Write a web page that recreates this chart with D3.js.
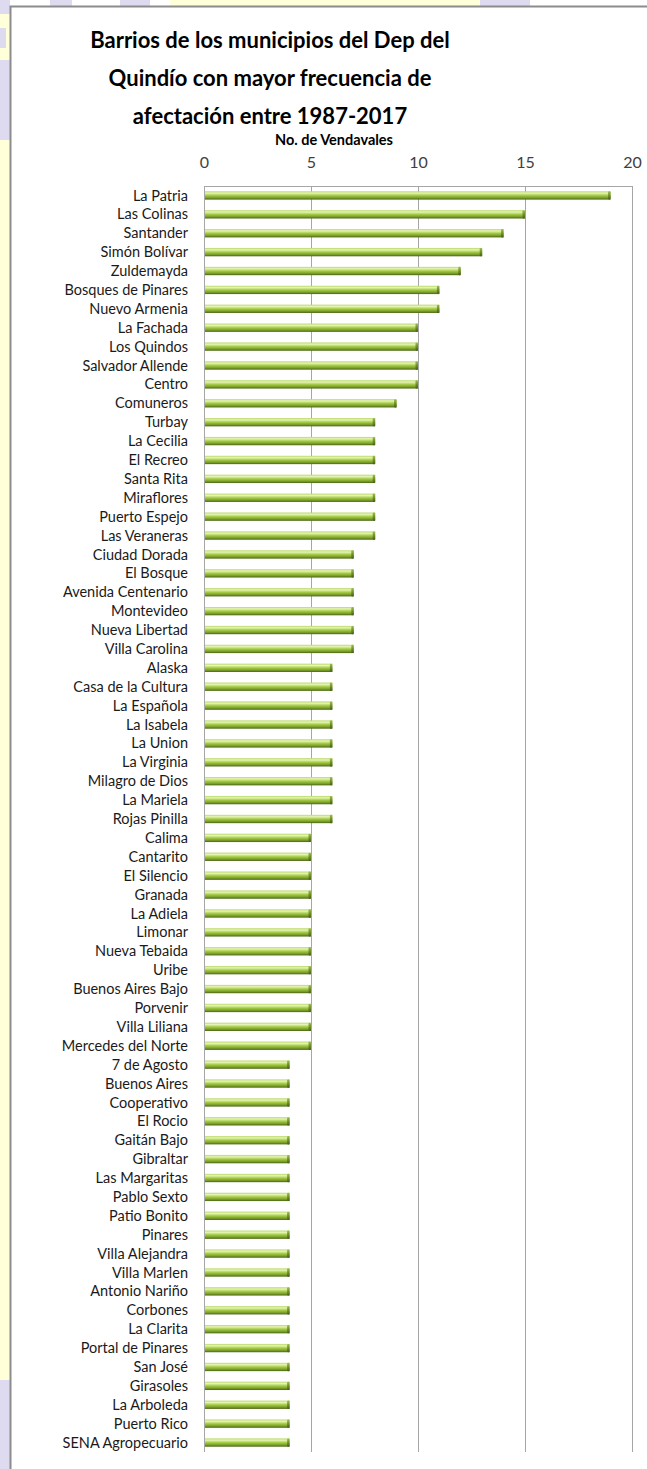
<!DOCTYPE html>
<html>
<head>
<meta charset="utf-8">
<script src="https://cdn.jsdelivr.net/npm/d3@7"></script>
<style>
  html, body { margin: 0; padding: 0; background: #fff; }
  svg { display: block; }
</style>
</head>
<body>
<div id="chart"></div>
<script>
var barrios = ["La Patria", "Las Colinas", "Santander", "Simón Bolívar", "Zuldemayda",
  "Bosques de Pinares", "Nuevo Armenia", "La Fachada", "Los Quindos", "Salvador Allende",
  "Centro", "Comuneros", "Turbay", "La Cecilia", "El Recreo", "Santa Rita", "Miraflores",
  "Puerto Espejo", "Las Veraneras", "Ciudad Dorada", "El Bosque", "Avenida Centenario",
  "Montevideo", "Nueva Libertad", "Villa Carolina", "Alaska", "Casa de la Cultura",
  "La Española", "La Isabela", "La Union", "La Virginia", "Milagro de Dios", "La Mariela",
  "Rojas Pinilla", "Calima", "Cantarito", "El Silencio", "Granada", "La Adiela", "Limonar",
  "Nueva Tebaida", "Uribe", "Buenos Aires Bajo", "Porvenir", "Villa Liliana",
  "Mercedes del Norte", "7 de Agosto", "Buenos Aires", "Cooperativo", "El Rocio",
  "Gaitán Bajo", "Gibraltar", "Las Margaritas", "Pablo Sexto", "Patio Bonito", "Pinares",
  "Villa Alejandra", "Villa Marlen", "Antonio Nariño", "Corbones", "La Clarita",
  "Portal de Pinares", "San José", "Girasoles", "La Arboleda", "Puerto Rico",
  "SENA Agropecuario"];

var vendavales = [19, 15, 14, 13, 12,
  11, 11, 10, 10, 10,
  10, 9, 8, 8, 8, 8, 8,
  8, 8, 7, 7, 7,
  7, 7, 7, 6, 6,
  6, 6, 6, 6, 6, 6,
  6, 5, 5, 5, 5, 5, 5,
  5, 5, 5, 5, 5,
  5, 4, 4, 4, 4,
  4, 4, 4, 4, 4, 4,
  4, 4, 4, 4, 4,
  4, 4, 4, 4, 4,
  4];

var tickValues = [0, 5, 10, 15, 20];

var titleLines = ["Barrios de los municipios del Dep del",
  "Quindío con mayor frecuencia de",
  "afectación entre 1987-2017"];
var axisTitle = "No. de Vendavales";

var width = 647;
var height = 1469;
var fontFamily = "Lato, 'Open Sans', 'DejaVu Sans', sans-serif";

var data = barrios.map(function(b, i) { return { name: b, value: vendavales[i] }; });

var svg = d3.select("#chart")
  .append("svg")
  .attr("width", width)
  .attr("height", height);

// page background strip at the left / top
svg.append("rect").attr("x", 0).attr("y", 0).attr("width", 10).attr("height", height).attr("fill", "#ffffd9");
svg.append("rect").attr("x", 170).attr("y", 0).attr("width", 310).attr("height", 6).attr("fill", "#ffffd9");
var lav = [[0, 0, 10, 14], [0, 28, 6, 20], [0, 60, 10, 80], [50, 0, 22, 6], [120, 0, 30, 6],
  [480, 0, 50, 6], [0, 1380, 10, 89]];
lav.forEach(function(r) {
  svg.append("rect").attr("x", r[0]).attr("y", r[1]).attr("width", r[2]).attr("height", r[3]).attr("fill", "#dedaf0");
});

// chart frame
svg.append("path")
  .attr("d", "M10.5," + height + "V6.5H" + width)
  .attr("fill", "none")
  .attr("stroke", "#8c8c8c")
  .attr("stroke-width", 2);

var margin = { top: 186, left: 204, right: 632, bottom: 1452 };

var x = d3.scaleLinear()
  .domain([0, 20])
  .range([margin.left, margin.right]);

var y = d3.scaleBand()
  .domain(barrios)
  .range([margin.top, margin.bottom])
  .paddingInner(0.56)
  .paddingOuter(0.28);

// gradient for the cylinder look
var defs = svg.append("defs");
var grad = defs.append("linearGradient")
  .attr("id", "barGrad")
  .attr("x1", 0).attr("y1", 0).attr("x2", 0).attr("y2", 1);
grad.append("stop").attr("offset", "0%").attr("stop-color", "#b9d86a");
grad.append("stop").attr("offset", "22%").attr("stop-color", "#e6f4b4");
grad.append("stop").attr("offset", "50%").attr("stop-color", "#a4cc45");
grad.append("stop").attr("offset", "78%").attr("stop-color", "#7b9f2a");
grad.append("stop").attr("offset", "100%").attr("stop-color", "#4a6416");

var capGrad = defs.append("linearGradient")
  .attr("id", "capGrad")
  .attr("x1", 0).attr("y1", 0).attr("x2", 0).attr("y2", 1);
capGrad.append("stop").attr("offset", "0%").attr("stop-color", "#9cbf52");
capGrad.append("stop").attr("offset", "50%").attr("stop-color", "#6f8f2a");
capGrad.append("stop").attr("offset", "100%").attr("stop-color", "#46601a");

// grid
var grid = svg.append("g").attr("class", "grid");
grid.selectAll("line")
  .data(tickValues)
  .enter()
  .append("line")
  .attr("x1", function(d) { return Math.round(x(d)) + 0.5; })
  .attr("x2", function(d) { return Math.round(x(d)) + 0.5; })
  .attr("y1", margin.top)
  .attr("y2", margin.bottom)
  .attr("stroke", "#a6a6a6")
  .attr("stroke-width", 1);
grid.append("line")
  .attr("x1", margin.left).attr("x2", margin.right)
  .attr("y1", margin.top + 0.5).attr("y2", margin.top + 0.5)
  .attr("stroke", "#a6a6a6");

// top axis labels
var axis = d3.axisTop(x)
  .tickValues(tickValues)
  .tickSize(0)
  .tickPadding(0);

var axisG = svg.append("g")
  .attr("transform", "translate(0,168)")
  .call(axis);
axisG.select(".domain").remove();
axisG.selectAll("text")
  .attr("dy", 0)
  .attr("font-family", fontFamily)
  .attr("font-size", 16)
  .attr("fill", "#404040");

// bars
var bars = svg.append("g").attr("class", "bars");
bars.selectAll("rect.bar")
  .data(data)
  .enter()
  .append("rect")
  .attr("class", "bar")
  .attr("x", x(0) + 1)
  .attr("y", function(d) { return y(d.name); })
  .attr("width", function(d) { return x(d.value) - x(0) - 1; })
  .attr("height", y.bandwidth())
  .attr("fill", "url(#barGrad)");

bars.selectAll("rect.cap")
  .data(data)
  .enter()
  .append("rect")
  .attr("class", "cap")
  .attr("x", function(d) { return x(d.value) - 2.5; })
  .attr("y", function(d) { return y(d.name); })
  .attr("width", 2.5)
  .attr("height", y.bandwidth())
  .attr("rx", 1)
  .attr("fill", "url(#capGrad)");

// category labels
svg.append("g")
  .selectAll("text")
  .data(data)
  .enter()
  .append("text")
  .attr("x", 188)
  .attr("y", function(d) { return y(d.name) + y.bandwidth() / 2; })
  .attr("dy", "0.35em")
  .attr("text-anchor", "end")
  .attr("font-family", fontFamily)
  .attr("font-size", 14.5)
  .attr("fill", "#1a1a1a")
  .text(function(d) { return d.name; });

// title
var title = svg.append("g");
title.selectAll("text")
  .data(titleLines)
  .enter()
  .append("text")
  .attr("x", 270)
  .attr("y", function(d, i) { return 48 + i * 38; })
  .attr("text-anchor", "middle")
  .attr("font-family", fontFamily)
  .attr("font-weight", "bold")
  .attr("font-size", 22)
  .attr("fill", "#000")
  .text(function(d) { return d; });

svg.append("text")
  .attr("x", 334)
  .attr("y", 145)
  .attr("text-anchor", "middle")
  .attr("font-family", fontFamily)
  .attr("font-weight", "bold")
  .attr("font-size", 14.5)
  .attr("fill", "#000")
  .text(axisTitle);
</script>
</body>
</html>
